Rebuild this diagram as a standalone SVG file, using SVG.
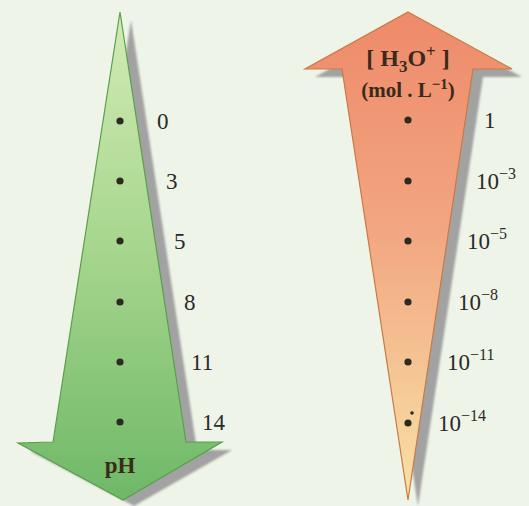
<svg xmlns="http://www.w3.org/2000/svg" width="529" height="506" viewBox="0 0 529 506">
  <defs>
    <linearGradient id="gGreen" x1="0" y1="12" x2="0" y2="500" gradientUnits="userSpaceOnUse">
      <stop offset="0" stop-color="#d2ecb6"/>
      <stop offset="0.5" stop-color="#a5d58c"/>
      <stop offset="1" stop-color="#6fb868"/>
    </linearGradient>
    <linearGradient id="gOrange" x1="0" y1="12" x2="0" y2="500" gradientUnits="userSpaceOnUse">
      <stop offset="0" stop-color="#ee8a6a"/>
      <stop offset="0.45" stop-color="#f2a682"/>
      <stop offset="0.8" stop-color="#f6cc98"/>
      <stop offset="1" stop-color="#f8e2a4"/>
    </linearGradient>
    <filter id="soft" x="-10%" y="-10%" width="120%" height="120%">
      <feGaussianBlur stdDeviation="0.8"/>
    </filter>
  </defs>
  <style>
    .shadow { fill: #a2a2a2; filter: url(#soft); }
    .dot { fill: #2b2b22; }
    .lbl { font-family: "Liberation Serif", "Times New Roman", serif; font-size: 23px; fill: #2a2a2a; }
    .sup { font-size: 16px; }
    .ttl { font-family: "Liberation Serif", "Times New Roman", serif; font-weight: bold; fill: #3a2a1a; }
  </style>
  <rect width="529" height="506" fill="#eef4e7"/>

  <g id="ph-arrow">
    <path class="shadow" d="M131,20 L197,450 L232,450 L134,506 L30,451 L64,450 Z"/>
    <path d="M120,12 L186,442 L222,442 L123,500 L18,443 L53,442 Z" fill="url(#gGreen)" stroke="#5c9e4c" stroke-width="1.2" stroke-linejoin="miter"/>
    <circle class="dot" cx="120" cy="121" r="3.6"/>
    <circle class="dot" cx="120" cy="181" r="3.6"/>
    <circle class="dot" cx="120" cy="241" r="3.6"/>
    <circle class="dot" cx="120" cy="302" r="3.6"/>
    <circle class="dot" cx="120" cy="362" r="3.6"/>
    <circle class="dot" cx="120" cy="422" r="3.6"/>
    <text class="lbl" x="157" y="129">0</text>
    <text class="lbl" x="166" y="189">3</text>
    <text class="lbl" x="174" y="249">5</text>
    <text class="lbl" x="184" y="310">8</text>
    <text class="lbl" x="191" y="370">11</text>
    <text class="lbl" x="202" y="430">14</text>
    <text class="ttl" x="120" y="473" font-size="23" text-anchor="middle">pH</text>
  </g>

  <g id="h3o-arrow">
    <path class="shadow" d="M418,20 L522,77 L483,77 L418,506 L352,77 L315,77 Z"/>
    <path d="M408,12 L512,69 L473,69 L408,500 L342,69 L305,69 Z" fill="url(#gOrange)" stroke="#c87a44" stroke-width="1.2" stroke-linejoin="miter"/>
    <circle class="dot" cx="408" cy="120" r="3.6"/>
    <circle class="dot" cx="408" cy="181" r="3.6"/>
    <circle class="dot" cx="408" cy="241" r="3.6"/>
    <circle class="dot" cx="408" cy="302" r="3.6"/>
    <circle class="dot" cx="408" cy="362" r="3.6"/>
    <circle class="dot" cx="408" cy="423" r="3.6"/>
    <circle class="dot" cx="412" cy="413" r="1.8"/>
    <text class="ttl" x="408" y="66" font-size="24" text-anchor="middle">[ H<tspan font-size="17" dy="6">3</tspan><tspan dy="-6">O</tspan><tspan font-size="17" dy="-9">+</tspan><tspan dy="9"> ]</tspan></text>
    <text class="ttl" x="408" y="97" font-size="21" text-anchor="middle">(mol . L<tspan font-size="15" dy="-8">−1</tspan><tspan dy="8">)</tspan></text>
    <text class="lbl" x="484" y="128">1</text>
    <text class="lbl" x="476" y="189">10<tspan class="sup" dy="-10">−3</tspan></text>
    <text class="lbl" x="467" y="249">10<tspan class="sup" dy="-10">−5</tspan></text>
    <text class="lbl" x="458" y="310">10<tspan class="sup" dy="-10">−8</tspan></text>
    <text class="lbl" x="447" y="370">10<tspan class="sup" dy="-10">−11</tspan></text>
    <text class="lbl" x="438" y="431">10<tspan class="sup" dy="-10">−14</tspan></text>
  </g>
</svg>
